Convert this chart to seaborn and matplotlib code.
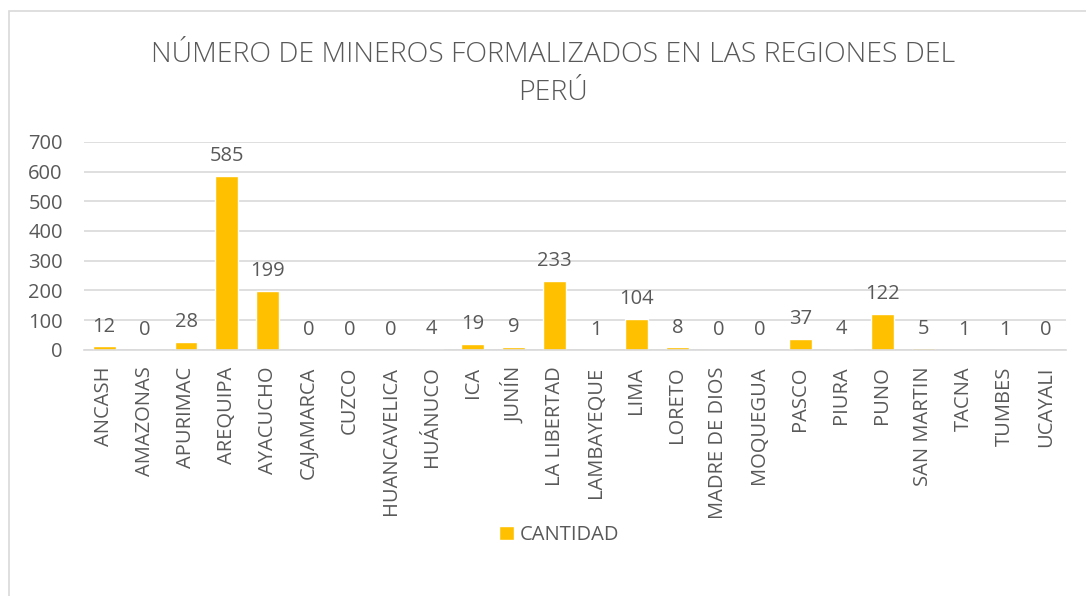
import matplotlib
matplotlib.use("Agg")
import matplotlib.pyplot as plt
from matplotlib.patches import Rectangle
import seaborn as sns
import pandas as pd

regiones = [
    "ANCASH", "AMAZONAS", "APURIMAC", "AREQUIPA", "AYACUCHO", "CAJAMARCA",
    "CUZCO", "HUANCAVELICA", "HUÁNUCO", "ICA", "JUNÍN", "LA LIBERTAD",
    "LAMBAYEQUE", "LIMA", "LORETO", "MADRE DE DIOS", "MOQUEGUA", "PASCO",
    "PIURA", "PUNO", "SAN MARTIN", "TACNA", "TUMBES", "UCAYALI",
]
cantidad = [12, 0, 28, 585, 199, 0, 0, 0, 4, 19, 9, 233,
            1, 104, 8, 0, 0, 37, 4, 122, 5, 1, 1, 0]
y_ticks = [0, 100, 200, 300, 400, 500, 600, 700]

TEXT = "#595959"
GRID = "#d9d9d9"
BAR = "#FFC000"

df = pd.DataFrame({"region": regiones, "CANTIDAD": cantidad})

sns.set_theme(style="white")
plt.rcParams["font.family"] = ["Open Sans", "DejaVu Sans"]

fig = plt.figure(figsize=(10.86, 5.96), dpi=100)
ax = fig.add_axes([0.077, 0.413, 0.905, 0.349])

sns.barplot(data=df, x="region", y="CANTIDAD", color=BAR, width=0.56,
            label="CANTIDAD", ax=ax, saturation=1)

ax.set_ylim(0, 700)
ax.set_yticks(y_ticks)
ax.yaxis.grid(True, color=GRID, linewidth=1.2)
ax.set_axisbelow(True)
for s in ["top", "right", "left"]:
    ax.spines[s].set_visible(False)
ax.spines["bottom"].set_color(GRID)
ax.spines["bottom"].set_linewidth(1.2)
ax.tick_params(axis="both", length=0, colors=TEXT)
ax.tick_params(axis="y", labelsize=14.5, pad=15)
ax.tick_params(axis="x", labelsize=14.5, pad=12, rotation=90)
ax.set_xlabel("")
ax.set_ylabel("")
ax.set_xlim(-0.5, len(regiones) - 0.5)

for c in ax.containers:
    ax.bar_label(c, labels=[str(v) for v in cantidad], padding=7,
                 fontsize=14.5, color=TEXT)

fig.text(0.509, 0.876, "NÚMERO DE MINEROS FORMALIZADOS EN LAS REGIONES DEL\nPERÚ",
         ha="center", va="center", fontsize=20.5, color=TEXT,
         linespacing=1.5, fontweight="light")

leg = ax.legend(loc="center", bbox_to_anchor=(0.515, 0.103),
                bbox_transform=fig.transFigure, frameon=False,
                fontsize=14.5, handlelength=0.7, handleheight=0.7,
                handletextpad=0.3)
for t in leg.get_texts():
    t.set_color(TEXT)

fig.patches.append(Rectangle((9 / 1086, -0.1), 1.2, 1.1 - 11 / 596,
                             transform=fig.transFigure, fill=False,
                             edgecolor=GRID, linewidth=1.2))

fig.savefig("out.png", dpi=100)
